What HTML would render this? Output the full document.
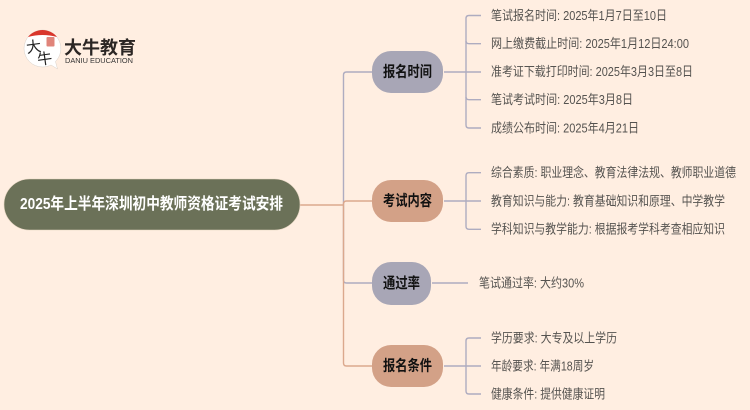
<!DOCTYPE html>
<html lang="zh">
<head>
<meta charset="utf-8">
<style>
html,body{margin:0;padding:0;background:#ffeee1;width:750px;height:410px;overflow:hidden}
svg{display:block}
text{font-family:"Liberation Sans","Noto Sans CJK SC",sans-serif}
.l{font-size:13px;fill:#555350;dominant-baseline:central}
.b{font-size:15px;font-weight:700;fill:#111;dominant-baseline:central}
</style>
</head>
<body>
<svg width="750" height="410" viewBox="0 0 750 410" xmlns="http://www.w3.org/2000/svg">
<rect width="750" height="410" fill="#ffeee1"/>

<!-- trunk connectors -->
<g fill="none" stroke-width="1.4">
<path d="M372 72H346.5Q343.5 72 343.5 75V205" stroke="#aeacc0"/>
<path d="M372 283H346.5Q343.5 283 343.5 280V205" stroke="#aeacc0"/>
<path d="M300 205H343.5" stroke="#dba88d"/>
<path d="M372 201H346.5Q343.5 201 343.5 204V205" stroke="#dba88d"/>
<path d="M372 366H346.5Q343.5 366 343.5 363V205" stroke="#dba88d"/>
</g>

<!-- leaf brackets -->
<g fill="none" stroke="#aeacc0" stroke-width="1.4">
<path d="M444 72H481"/>
<path d="M481 15.5H469Q466 15.5 466 18.5V125Q466 128 469 128H481"/>
<path d="M466 41Q466 43.7 469 43.7H481"/>
<path d="M466 97Q466 99.7 469 99.7H481"/>
<path d="M444 201H481"/>
<path d="M481 172.7H469Q466 172.7 466 175.7V226.3Q466 229.3 469 229.3H481"/>
<path d="M432 283H468"/>
<path d="M444 366H481"/>
<path d="M481 338H469Q466 338 466 341V391Q466 394 469 394H481"/>
</g>

<!-- root -->
<rect x="4" y="179" width="296" height="51" rx="25.5" fill="#6b7158" stroke="#e3d3bf" stroke-width=".6"/>
<text x="20" y="204.5" font-size="16" font-weight="700" fill="#fff" dominant-baseline="central" textLength="263" lengthAdjust="spacingAndGlyphs">2025年上半年深圳初中教师资格证考试安排</text>

<!-- branches -->
<rect x="372" y="51" width="71" height="42" rx="19" fill="#a8a6b6"/>
<text class="b" x="383" y="72" textLength="49" lengthAdjust="spacingAndGlyphs">报名时间</text>
<rect x="372" y="180" width="71" height="42" rx="19" fill="#d3a187"/>
<text class="b" x="383" y="201" textLength="49" lengthAdjust="spacingAndGlyphs">考试内容</text>
<rect x="372" y="262" width="59" height="43" rx="19" fill="#a8a6b6"/>
<text class="b" x="383" y="283.5" textLength="37" lengthAdjust="spacingAndGlyphs">通过率</text>
<rect x="372" y="345" width="71" height="42" rx="19" fill="#d3a187"/>
<text class="b" x="383" y="366" textLength="49" lengthAdjust="spacingAndGlyphs">报名条件</text>

<!-- leaves -->
<text class="l" x="491" y="15.5" textLength="176" lengthAdjust="spacingAndGlyphs">笔试报名时间: 2025年1月7日至10日</text>
<text class="l" x="491" y="43.5" textLength="198" lengthAdjust="spacingAndGlyphs">网上缴费截止时间: 2025年1月12日24:00</text>
<text class="l" x="491" y="71.5" textLength="202" lengthAdjust="spacingAndGlyphs">准考证下载打印时间: 2025年3月3日至8日</text>
<text class="l" x="491" y="99.5" textLength="142" lengthAdjust="spacingAndGlyphs">笔试考试时间: 2025年3月8日</text>
<text class="l" x="491" y="128" textLength="148" lengthAdjust="spacingAndGlyphs">成绩公布时间: 2025年4月21日</text>
<text class="l" x="491" y="172.5" textLength="245" lengthAdjust="spacingAndGlyphs">综合素质: 职业理念、教育法律法规、教师职业道德</text>
<text class="l" x="491" y="201" textLength="234" lengthAdjust="spacingAndGlyphs">教育知识与能力: 教育基础知识和原理、中学教学</text>
<text class="l" x="491" y="229" textLength="234" lengthAdjust="spacingAndGlyphs">学科知识与教学能力: 根据报考学科考查相应知识</text>
<text class="l" x="479" y="283" textLength="105" lengthAdjust="spacingAndGlyphs">笔试通过率: 大约30%</text>
<text class="l" x="491" y="338" textLength="126" lengthAdjust="spacingAndGlyphs">学历要求: 大专及以上学历</text>
<text class="l" x="491" y="366" textLength="103" lengthAdjust="spacingAndGlyphs">年龄要求: 年满18周岁</text>
<text class="l" x="491" y="394" textLength="114" lengthAdjust="spacingAndGlyphs">健康条件: 提供健康证明</text>

<!-- logo -->
<path d="M42.5 30A18.5 18.5 0 0 0 42.5 67C46 67 49 66 51 65L57.5 69L55.5 61.5A18.5 18.5 0 0 0 42.5 30Z" fill="#fff" stroke="#d8d0c8" stroke-width=".5"/>
<path d="M28 37A18.5 18.5 0 0 1 57 37Q42.5 33 28 37Z" fill="#d9362b"/>
<rect x="46.5" y="37" width="8" height="9.5" rx="1" fill="#e0847a"/>
<text transform="translate(27 53) rotate(-8)" font-size="15" fill="#222">大</text>
<text transform="translate(38 65) rotate(-8)" font-size="15" fill="#222">牛</text>
<text x="64" y="54" font-size="18" font-weight="700" fill="#2b2624" textLength="72">大牛教育</text>
<text x="65" y="63" font-size="7" fill="#333" textLength="68" lengthAdjust="spacingAndGlyphs">DANIU EDUCATION</text>
</svg>
</body>
</html>
